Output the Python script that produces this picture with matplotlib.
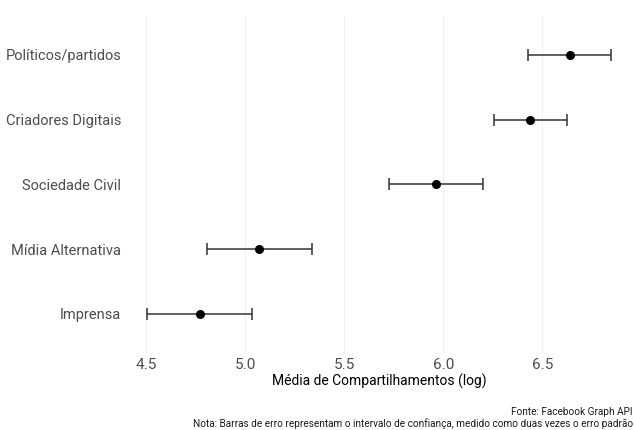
import matplotlib
matplotlib.use("Agg")
import matplotlib.pyplot as plt
import numpy as np

# Data (log of mean shares)
categorias = ["Imprensa", "Mídia Alternativa", "Sociedade Civil",
              "Criadores Digitais", "Políticos/partidos"]
media = [4.772, 5.072, 5.962, 6.440, 6.639]
ic_inf = [4.505, 4.807, 5.724, 6.256, 6.430]
ic_sup = [5.035, 5.337, 6.202, 6.625, 6.846]
xticks = [4.5, 5.0, 5.5, 6.0, 6.5]

plt.rcParams["font.family"] = ["Roboto", "DejaVu Sans"]

fig = plt.figure(figsize=(6.34, 4.30), dpi=100)
ax = fig.add_axes([0.1956, 0.180, 0.8044, 0.783])

y = np.arange(len(categorias))
media = np.array(media)
erro = [media - np.array(ic_inf), np.array(ic_sup) - media]

ax.errorbar(media, y, xerr=erro, fmt="none", ecolor="#333333",
            elinewidth=1.1, capsize=4, capthick=1.1, zorder=2)
ax.plot(media, y, "o", color="black", markersize=5.5, zorder=3)

ax.set_yticks(y)
ax.set_yticklabels(categorias)
ax.set_xticks(xticks)
ax.set_xticklabels([f"{v:.1f}" for v in xticks])
ax.set_ylim(-0.6, len(categorias) - 0.4)
lo, hi = min(ic_inf), max(ic_sup)
pad = 0.05 * (hi - lo)
ax.set_xlim(lo - pad, hi + pad)

ax.grid(axis="x", color="#f0f0f0", linewidth=0.8)
ax.set_axisbelow(True)
for s in ax.spines.values():
    s.set_visible(False)
ax.tick_params(length=0, labelcolor="#4d4d4d")
ax.tick_params(axis="y", labelsize=10.5, pad=2)
ax.tick_params(axis="x", labelsize=11, pad=4)

ax.set_xlabel("Média de Compartilhamentos (log)", fontsize=10, labelpad=1)

fig.text(0.998, 0.043, "Fonte: Facebook Graph API", ha="right", va="center",
         fontsize=7.2, color="#1a1a1a")
fig.text(0.998, 0.016,
         "Nota: Barras de erro representam o intervalo de confiança, medido como duas vezes o erro padrão",
         ha="right", va="center", fontsize=7.2, color="#1a1a1a")

fig.savefig("out.png", dpi=100)
